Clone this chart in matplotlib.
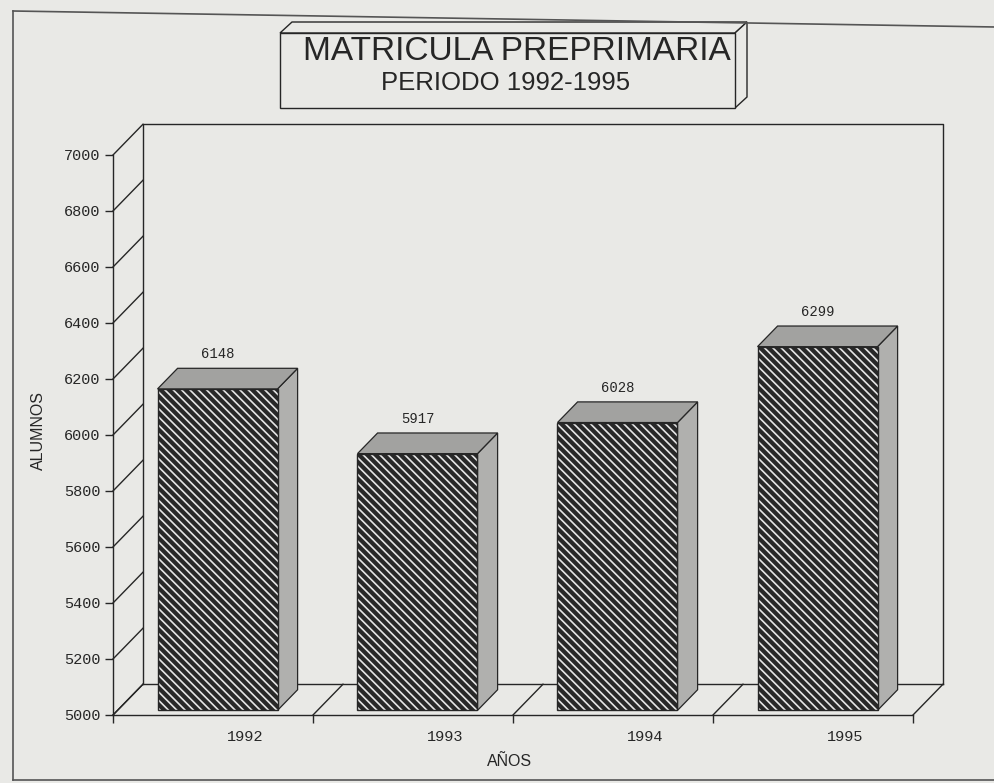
import matplotlib
matplotlib.use('Agg')
import matplotlib.pyplot as plt
from matplotlib.patches import Polygon, Rectangle
from matplotlib.lines import Line2D

# data
years = ['1992', '1993', '1994', '1995']
alumnos = [6148, 5917, 6028, 6299]
y_ticks = [5000, 5200, 5400, 5600, 5800, 6000, 6200, 6400, 6600, 6800, 7000]

bg = '#e9e9e6'
ink = '#262626'
W, H = 995, 783

plt.rcParams['hatch.linewidth'] = 1.2
HATCH = chr(92) * 4  # backslashes -> fine diagonal stripes


def fx(x):
    return x / W


def fy(y):
    return 1 - y / H


fig = plt.figure(figsize=(W / 100, H / 100), dpi=100, facecolor=bg)
ax = fig.add_axes([fx(113), fy(715), 800 / W, 560 / H])
ax.set_facecolor('none')

n = len(years)
x0, x1 = -0.5, n - 0.5
ymin, ymax = y_ticks[0], y_ticks[-1]
ax.set_xlim(x0, x1)
ax.set_ylim(ymin, ymax)

# depth of the floor (data units), bar placement inside it
dx, dy = 0.15, 110
f0, f1 = 0.15, 0.82
bw = 0.6

# walls and floor
wall = dict(color=ink, lw=1.0, clip_on=False, zorder=1)
ax.plot([x0 + dx, x0 + dx, x1 + dx, x1 + dx],
        [ymin + dy, ymax + dy, ymax + dy, ymin + dy], **wall)
ax.plot([x0 + dx, x1 + dx], [ymin + dy, ymin + dy], **wall)
for t in y_ticks:
    ax.plot([x0, x0 + dx], [t, t + dy], **wall)
for k in range(n + 1):
    ax.plot([x0 + k, x0 + k + dx], [ymin, ymin + dy], **wall)

# 3d bars
for i, v in enumerate(alumnos):
    xl = i - bw / 2 + f0 * dx
    xr = xl + bw
    b0 = ymin + f0 * dy
    t0 = v + f0 * dy
    t1 = v + f1 * dy
    ddx = (f1 - f0) * dx
    side = Polygon([(xr, b0), (xr, t0), (xr + ddx, t1), (xr + ddx, ymin + f1 * dy)],
                   closed=True, facecolor='#b0b0ae', edgecolor=ink, lw=0.9,
                   clip_on=False, zorder=3)
    top = Polygon([(xl, t0), (xl + ddx, t1), (xr + ddx, t1), (xr, t0)],
                  closed=True, facecolor='#a2a2a0', edgecolor=ink, lw=0.9,
                  clip_on=False, zorder=3)
    ax.add_patch(side)
    ax.add_patch(top)
    ax.add_patch(Rectangle((xl, b0), bw, v - ymin, facecolor='#282828',
                           edgecolor='#e6e6e6', hatch=HATCH, lw=0,
                           clip_on=False, zorder=4))
    ax.add_patch(Rectangle((xl, b0), bw, v - ymin, fill=False,
                           edgecolor=ink, lw=1.0, clip_on=False, zorder=5))
    ax.text(i + f0 * dx, t1 + 25, str(v), ha='center', va='bottom',
            fontfamily='Liberation Mono', fontsize=10, color=ink, zorder=6)
    ax.annotate(years[i], xy=(i + 0.16, ymin), xytext=(0, -16),
                textcoords='offset points', ha='center', va='center',
                fontfamily='Liberation Mono', fontsize=11, color=ink,
                annotation_clip=False)

# axes styling
for s in ['top', 'right']:
    ax.spines[s].set_visible(False)
for s in ['left', 'bottom']:
    ax.spines[s].set_color(ink)
    ax.spines[s].set_linewidth(1.0)
ax.set_yticks(y_ticks)
ax.set_yticklabels([str(t) for t in y_ticks], fontfamily='Liberation Mono',
                   fontsize=11, color=ink)
ax.set_xticks([x0 + k for k in range(n + 1)])
ax.set_xticklabels([])
ax.tick_params(axis='both', direction='out', length=6, width=1.0,
               color=ink, pad=3)

fig.text(fx(510), fy(762), 'AÑOS', ha='center', va='center',
         fontfamily='Liberation Sans', fontsize=11.5, color=ink)
fig.text(fx(38), fy(430), 'ALUMNOS', ha='center', va='center', rotation=90,
         fontfamily='Liberation Sans', fontsize=11.5, color=ink)

# title box with 3d edge
bx0, bx1, by0, by1 = 280, 735, 33, 108
ox, oy = 12, -11
box_style = dict(transform=fig.transFigure, facecolor=bg, edgecolor=ink, lw=1.0)
fig.add_artist(Polygon([(fx(bx0), fy(by0)), (fx(bx0 + ox), fy(by0 + oy)),
                        (fx(bx1 + ox), fy(by0 + oy)), (fx(bx1), fy(by0))],
                       closed=True, **box_style))
fig.add_artist(Polygon([(fx(bx1), fy(by0)), (fx(bx1 + ox), fy(by0 + oy)),
                        (fx(bx1 + ox), fy(by1 + oy)), (fx(bx1), fy(by1))],
                       closed=True, **box_style))
fig.add_artist(Polygon([(fx(bx0), fy(by0)), (fx(bx1), fy(by0)),
                        (fx(bx1), fy(by1)), (fx(bx0), fy(by1))],
                       closed=True, **box_style))
fig.text(fx(517), fy(52), 'MATRICULA PREPRIMARIA', ha='center', va='center',
         fontfamily='Liberation Sans', fontsize=24, color=ink)
fig.text(fx(506), fy(83), 'PERIODO 1992-1995', ha='center', va='center',
         fontfamily='Liberation Sans', fontsize=18.5, color=ink)

# outer frame of the page
frame = dict(transform=fig.transFigure, color='#555555', lw=1.2)
fig.add_artist(Line2D([fx(13), fx(995)], [fy(11), fy(27)], **frame))
fig.add_artist(Line2D([fx(13), fx(13)], [fy(11), fy(780)], **frame))
fig.add_artist(Line2D([fx(13), fx(995)], [fy(780), fy(780)], **frame))

fig.savefig('out.png', dpi=100, facecolor=bg)
